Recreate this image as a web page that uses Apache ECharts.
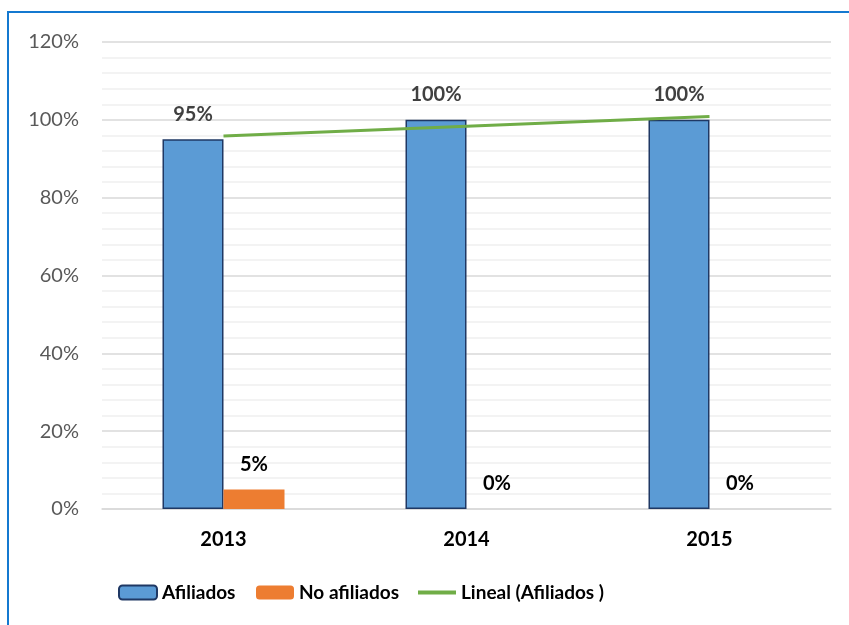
<!DOCTYPE html>
<html>
<head>
<meta charset="utf-8">
<script src="https://cdn.jsdelivr.net/npm/echarts@6/dist/echarts.min.js"></script>
<style>
html,body{margin:0;padding:0;background:#fff;}
#chart{width:849px;height:625px;}
</style>
</head>
<body>
<div id="chart"></div>
<script>
var categories = ['2013', '2014', '2015'];
var afiliados = [95, 100, 100];
var noAfiliados = [5, 0, 0];
var trendAfiliados = [95.83, 98.33, 100.83];
var yTicks = [0, 20, 40, 60, 80, 100, 120];

var FONT = 'Lato, "Liberation Sans", sans-serif';
var chart = echarts.init(document.getElementById('chart'), null, {renderer: 'canvas'});
var legendText = {fontFamily: FONT, fontSize: 19, fontWeight: 'bold', color: '#000'};
var option = {
  backgroundColor: '#ffffff',
  animation: false,
  textStyle: {fontFamily: FONT},
  graphic: [{
    type: 'rect',
    shape: {x: 8, y: 12, width: 1000, height: 800},
    style: {fill: 'none', stroke: '#1479D0', lineWidth: 2},
    silent: true,
    z: 100
  }],
  grid: {left: 102, right: 18, top: 42, bottom: 116, containLabel: false},
  legend: [
    {data: ['Afiliados'], left: 113, top: 578, itemWidth: 38, itemHeight: 14, itemGap: 0, textStyle: legendText},
    {data: ['No afiliados'], left: 251, top: 578, itemWidth: 38, itemHeight: 14, itemGap: 0, textStyle: legendText},
    {data: [{name: 'Lineal (Afiliados )', icon: 'rect'}], left: 413, top: 578, itemWidth: 38, itemHeight: 4, itemGap: 0, textStyle: legendText}
  ],
  xAxis: {
    type: 'category',
    data: categories,
    axisLine: {show: true, lineStyle: {color: '#D9D9D9', width: 1.5}},
    axisTick: {show: false},
    axisLabel: {margin: 21, fontFamily: FONT, fontSize: 20, fontWeight: 'bold', color: '#000'}
  },
  yAxis: {
    type: 'value',
    min: yTicks[0],
    max: yTicks[yTicks.length - 1],
    interval: 20,
    axisLine: {show: false},
    axisTick: {show: false},
    axisLabel: {margin: 23, fontFamily: FONT, fontSize: 20, color: '#595959', formatter: '{value}%'},
    splitLine: {show: true, lineStyle: {color: '#D9D9D9', width: 1.5}},
    minorTick: {show: false, splitNumber: 5},
    minorSplitLine: {show: true, lineStyle: {color: '#F0F0F0', width: 1.5}}
  },
  series: [
    {
      name: 'Afiliados',
      type: 'bar',
      data: afiliados,
      barWidth: 61,
      barGap: '0%',
      itemStyle: {color: '#5B9BD5', borderColor: '#1F3864', borderWidth: 1.5},
      label: {show: true, position: 'top', distance: 15, formatter: '{c}%',
              fontFamily: FONT, fontSize: 20, fontWeight: 'bold', color: '#404040'}
    },
    {
      name: 'No afiliados',
      type: 'bar',
      data: noAfiliados,
      barWidth: 61,
      itemStyle: {color: '#ED7D31'},
      label: {show: true, position: 'top', distance: 15, formatter: '{c}%',
              fontFamily: FONT, fontSize: 20, fontWeight: 'bold', color: '#000'}
    },
    {
      name: 'Lineal (Afiliados )',
      type: 'line',
      data: trendAfiliados,
      symbol: 'none',
      showSymbol: false,
      lineStyle: {color: '#70AD47', width: 3},
      itemStyle: {color: '#70AD47'},
      z: 5
    }
  ]
};
chart.setOption(option);
</script>
</body>
</html>
